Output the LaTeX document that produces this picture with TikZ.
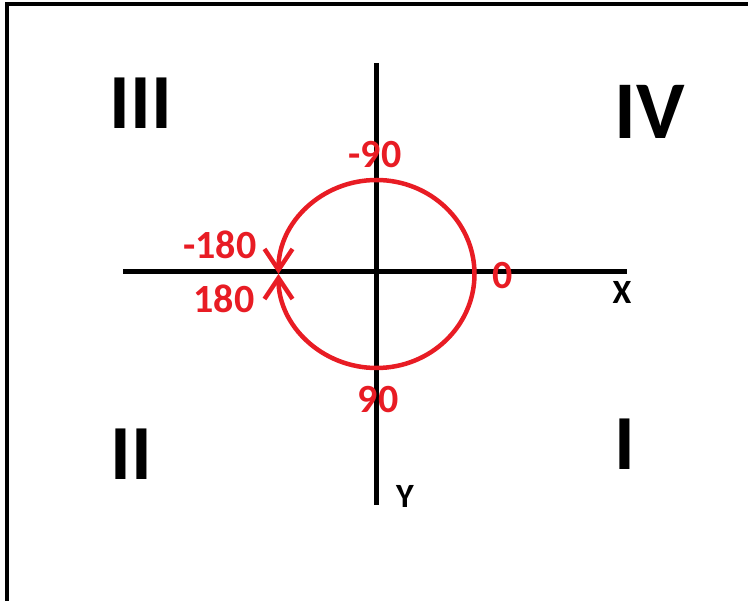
\documentclass[tikz,border=0pt]{standalone}
\usepackage{fontspec}
\setmainfont{Carlito}
\usetikzlibrary{arrows.meta,positioning}
\definecolor{anglered}{RGB}{232,28,36}
\definecolor{inkblack}{RGB}{0,0,0}
\tikzset{
  frameline/.style={line width=3.5pt, draw=inkblack},
  axisline/.style={line width=5pt, draw=inkblack},
  ring/.style={line width=4.5pt, draw=anglered},
  ringtip/.style={ring, -{Straight Barb[length=21pt, width=28pt]}},
  quad/.style={inner sep=0pt, text=inkblack, font=\fontsize{78}{78}\selectfont\bfseries},
  anglbl/.style={inner sep=0pt, text=anglered, font=\fontsize{40}{40}\selectfont\bfseries},
  axlbl/.style={inner sep=0pt, text=inkblack, font=\fontsize{34}{34}\selectfont\bfseries},
}

\begin{document}
\begin{tikzpicture}[x=1pt, y=-1pt]
    \useasboundingbox (0,0) rectangle (748,601);
    \draw[frameline] (748,4) -- (7,4) -- (7,601);
    % axes
    \coordinate (xl) at (123,272);
    \coordinate (xr) at (627,272);
    \coordinate (yt) at (376,63);
    \coordinate (yb) at (376,505);
    \draw[axisline] (xl) -- (xr);
    \draw[axisline] (yt) -- (yb);
    % angle ring, both halves end at 180
    \coordinate (zero) at (474.5,274);
    \draw[ringtip] (zero) arc[start angle=0, end angle=-180, x radius=98, y radius=94];
    \draw[ringtip] (zero) arc[start angle=0, end angle=180, x radius=98, y radius=94];
    % quadrants
    \node[quad] (q3) at (141,103) {III};
    \node[quad, font=\fontsize{82}{82}\selectfont\bfseries] (q4) at (650,112) {IV};
    \node[quad] (q2) at (131,454) {II};
    \node[quad] (q1) at (625,444) {I};
    % angles
    \node[anglbl] (a0) at (503,276) {0};
    \node[anglbl] (am90) at (375,155) {-90};
    \node[anglbl] (a90) at (378,400) {90};
    \node[anglbl] (am180) at (220,245) {-180};
    \node[anglbl] (a180) at (224,299) {180};
    \node[axlbl] (xlbl) at (622,292) {X};
    \node[axlbl] (ylbl) at (405,496) {Y};
\end{tikzpicture}
\end{document}
